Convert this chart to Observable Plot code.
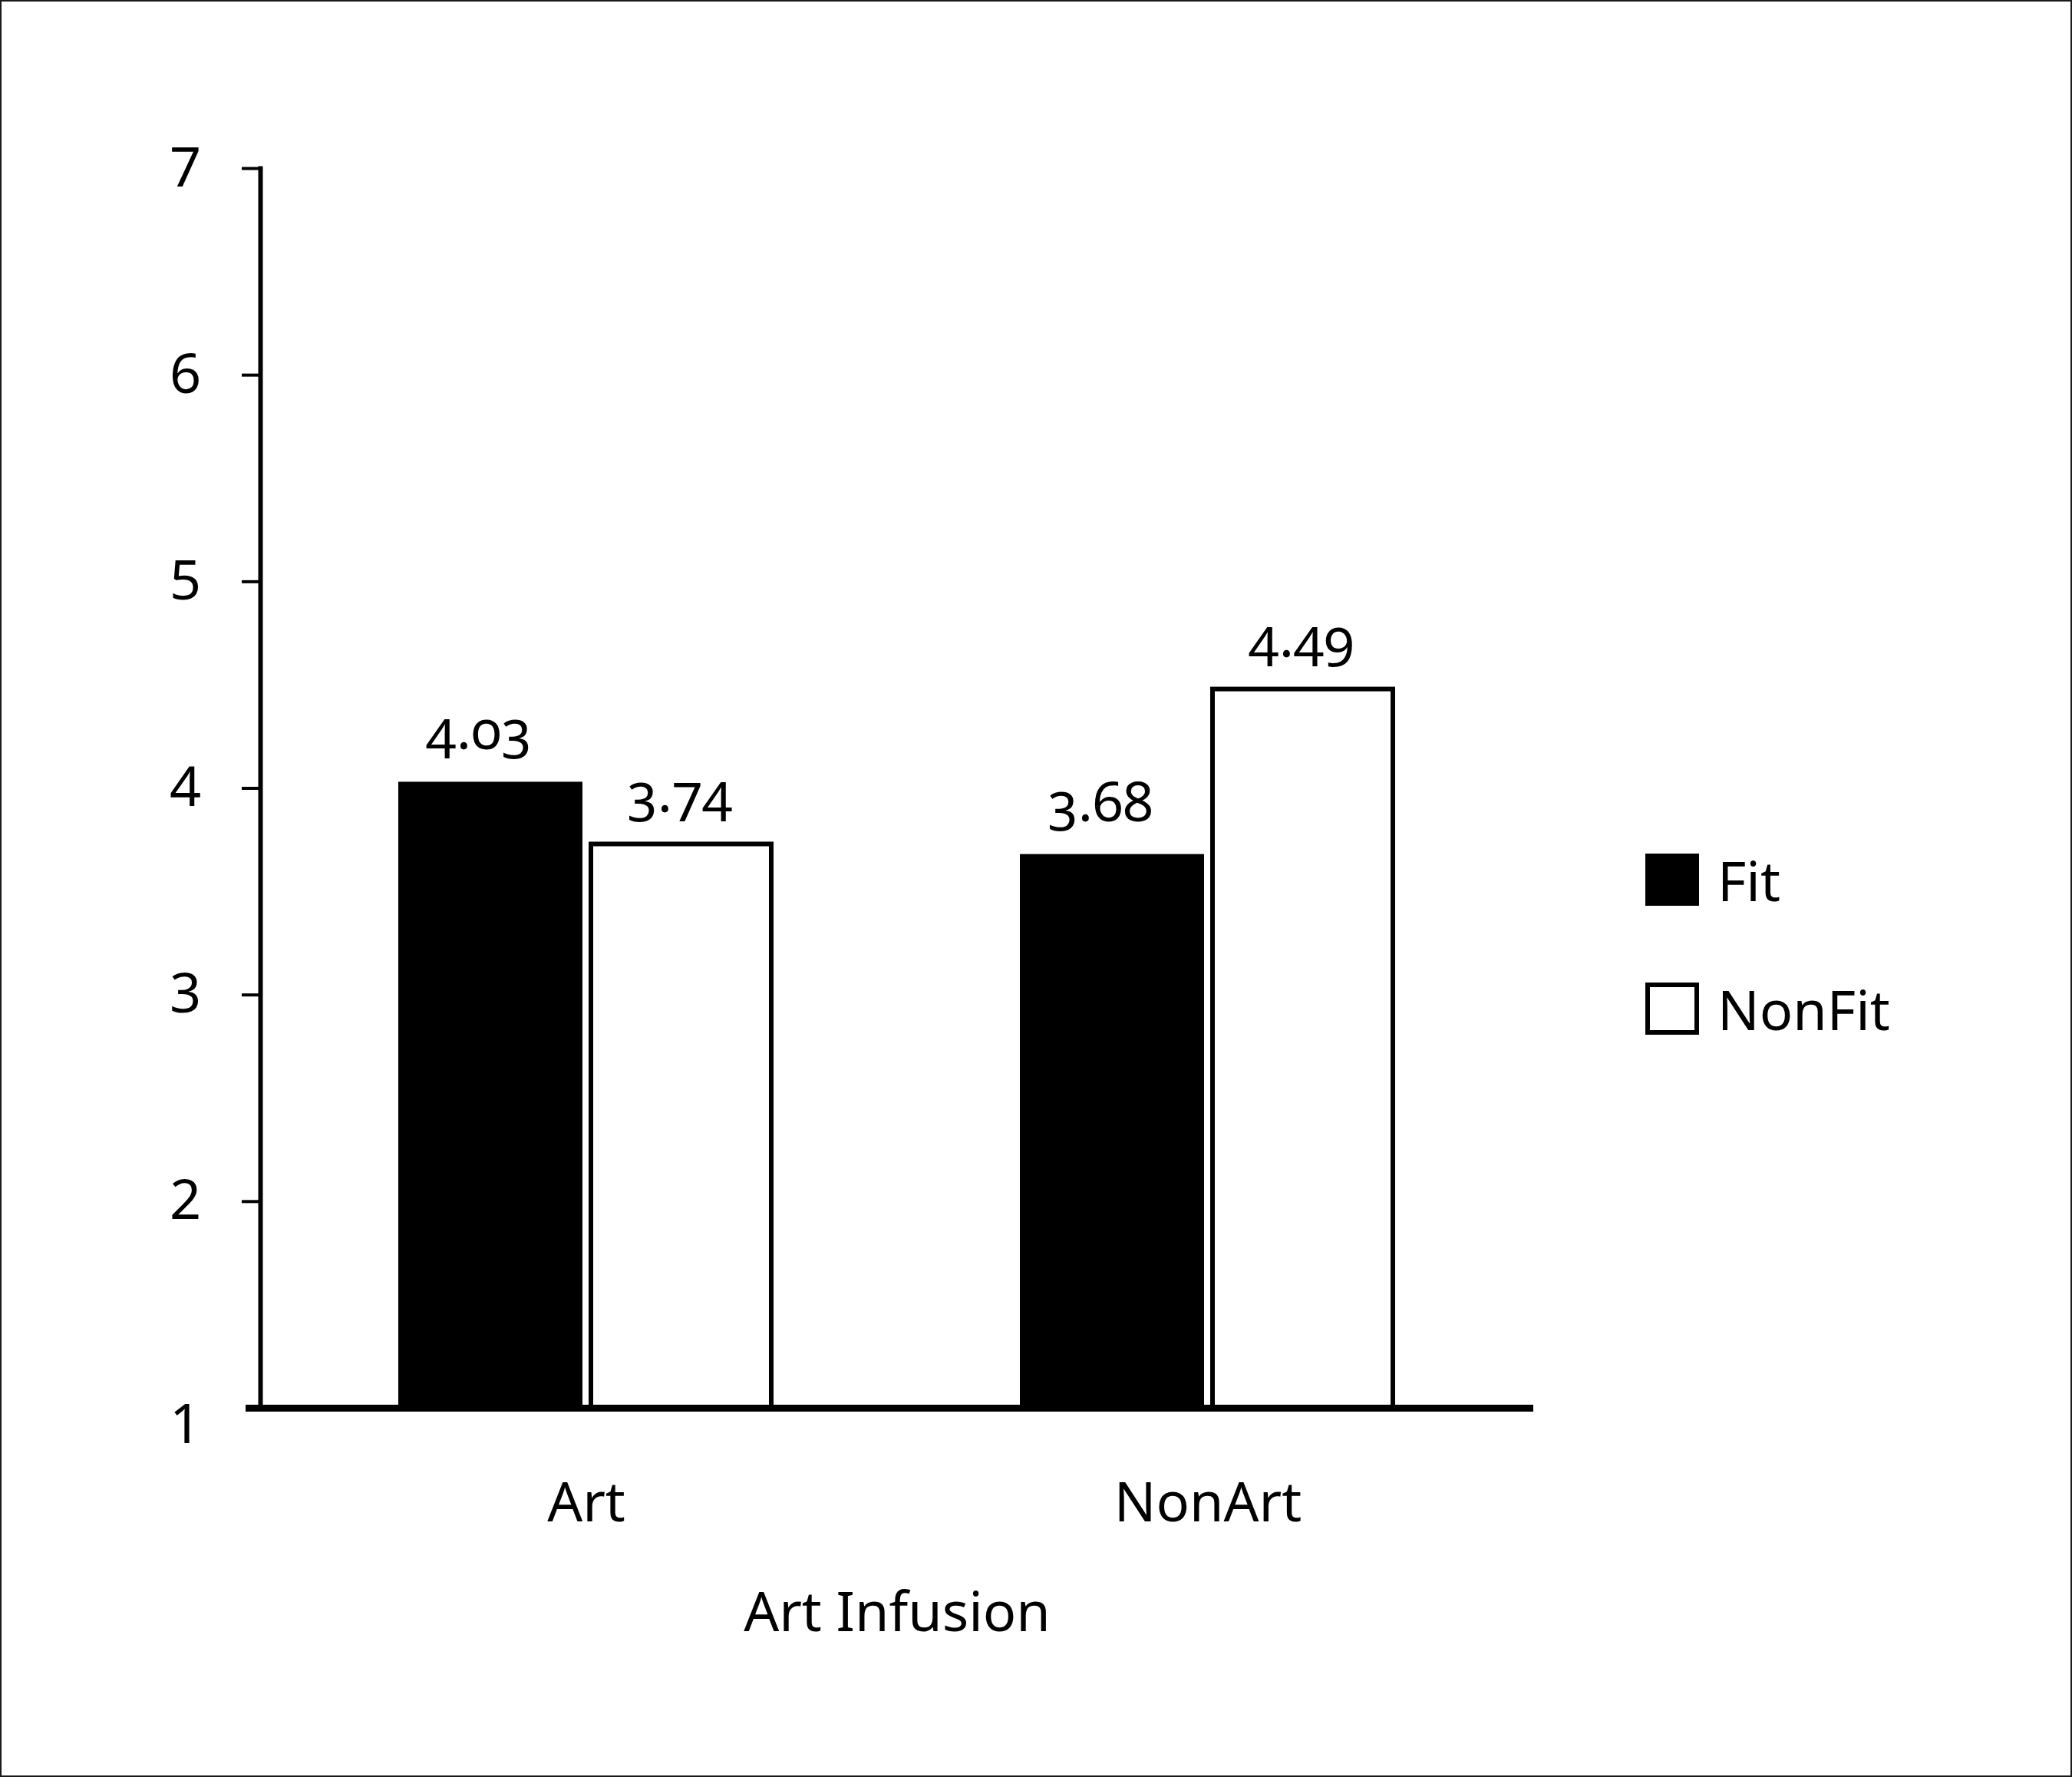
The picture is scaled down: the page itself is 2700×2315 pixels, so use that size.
<!DOCTYPE html>
<html><head><meta charset="utf-8">
<script src="https://cdn.jsdelivr.net/npm/d3@7"></script>
<script src="https://cdn.jsdelivr.net/npm/@observablehq/plot@0.6"></script>
<style>
html,body{margin:0;padding:0;background:#fff;}
#wrap{position:relative;width:2700px;height:2315px;font-family:"Noto Sans",sans-serif;font-variant-numeric:oldstyle-nums;overflow:hidden;}
#chart svg{display:block;font-variant-numeric:oldstyle-nums;}
#border{position:absolute;left:0;top:0;right:0;bottom:0;border:2px solid #1a1a1a;pointer-events:none;}
.legend-item{position:absolute;left:2144px;display:flex;align-items:center;font-size:72px;line-height:1;color:#000;}
.swatch{width:70px;height:68px;box-sizing:border-box;margin-right:24px;border:6px solid #000;}
</style></head>
<body><div id="wrap"><div id="chart"></div><div id="legend"></div><div id="border"></div></div>
<script>
const categories = ["Art", "NonArt"];
const seriesNames = ["Fit", "NonFit"];
const fitValues = [4.03, 3.68];
const nonFitValues = [3.74, 4.49];
const yTicks = [1, 2, 3, 4, 5, 6, 7];
const xTitle = "Art Infusion";
const seriesFill = ["#000000", "#ffffff"];

const fitRows = categories.map((c, i) => ({category: c, series: seriesNames[0], value: fitValues[i]}));
const nonFitRows = categories.map((c, i) => ({category: c, series: seriesNames[1], value: nonFitValues[i]}));
const fmt = d3.format(".2f");
const tickFmt = d3.format("d");

const chart = Plot.plot({
  width: 2700,
  height: 2315,
  marginLeft: 339,
  marginRight: 702,
  marginTop: 219,
  marginBottom: 481,
  style: {fontFamily: "Noto Sans, sans-serif", fontSize: "72px", color: "#000", background: "transparent"},
  x: {domain: categories, paddingInner: 0.396, paddingOuter: 0.221, label: null, axis: null},
  y: {domain: [yTicks[0], yTicks[yTicks.length - 1]], label: null, axis: null},
  marks: [
    Plot.barY(fitRows, {x: "category", y1: yTicks[0], y2: "value", fill: seriesFill[0], insetRight: 249}),
    Plot.barY(nonFitRows, {x: "category", y1: yTicks[0], y2: "value", fill: seriesFill[1], stroke: "#000", strokeWidth: 6, insetLeft: 251, insetRight: 3, insetTop: 3}),
    Plot.text(fitRows, {x: "category", y: "value", text: d => fmt(d.value), dx: -140, dy: -66, fontSize: 72}),
    Plot.text(nonFitRows, {x: "category", y: "value", text: d => fmt(d.value), dx: 122, dy: -62, fontSize: 72}),
    Plot.frame({anchor: "left", strokeWidth: 6}),
    Plot.ruleY([yTicks[0]], {strokeWidth: 9, insetLeft: -19}),
    Plot.axisY(yTicks.slice(1), {tickSize: 24, tickPadding: 74, textAnchor: "middle", strokeWidth: 4, fontSize: 72, tickFormat: tickFmt}),
    Plot.axisY(yTicks.slice(0, 1), {tickSize: 0, tickPadding: 98, textAnchor: "middle", dy: 22, fontSize: 72, tickFormat: tickFmt}),
    Plot.axisX({tickSize: 0, tickPadding: 96, fontSize: 72, label: null}),
    Plot.text([xTitle], {frameAnchor: "bottom", dy: 290, fontSize: 72})
  ]
});
document.getElementById("chart").appendChild(chart);

const legend = document.getElementById("legend");
const legendTops = [1110, 1278];
seriesNames.forEach((name, i) => {
  const item = document.createElement("div");
  item.className = "legend-item";
  item.style.top = legendTops[i] + "px";
  const sw = document.createElement("div");
  sw.className = "swatch";
  sw.style.background = seriesFill[i];
  const label = document.createElement("span");
  label.textContent = name;
  item.appendChild(sw);
  item.appendChild(label);
  legend.appendChild(item);
});
</script>
</body></html>
